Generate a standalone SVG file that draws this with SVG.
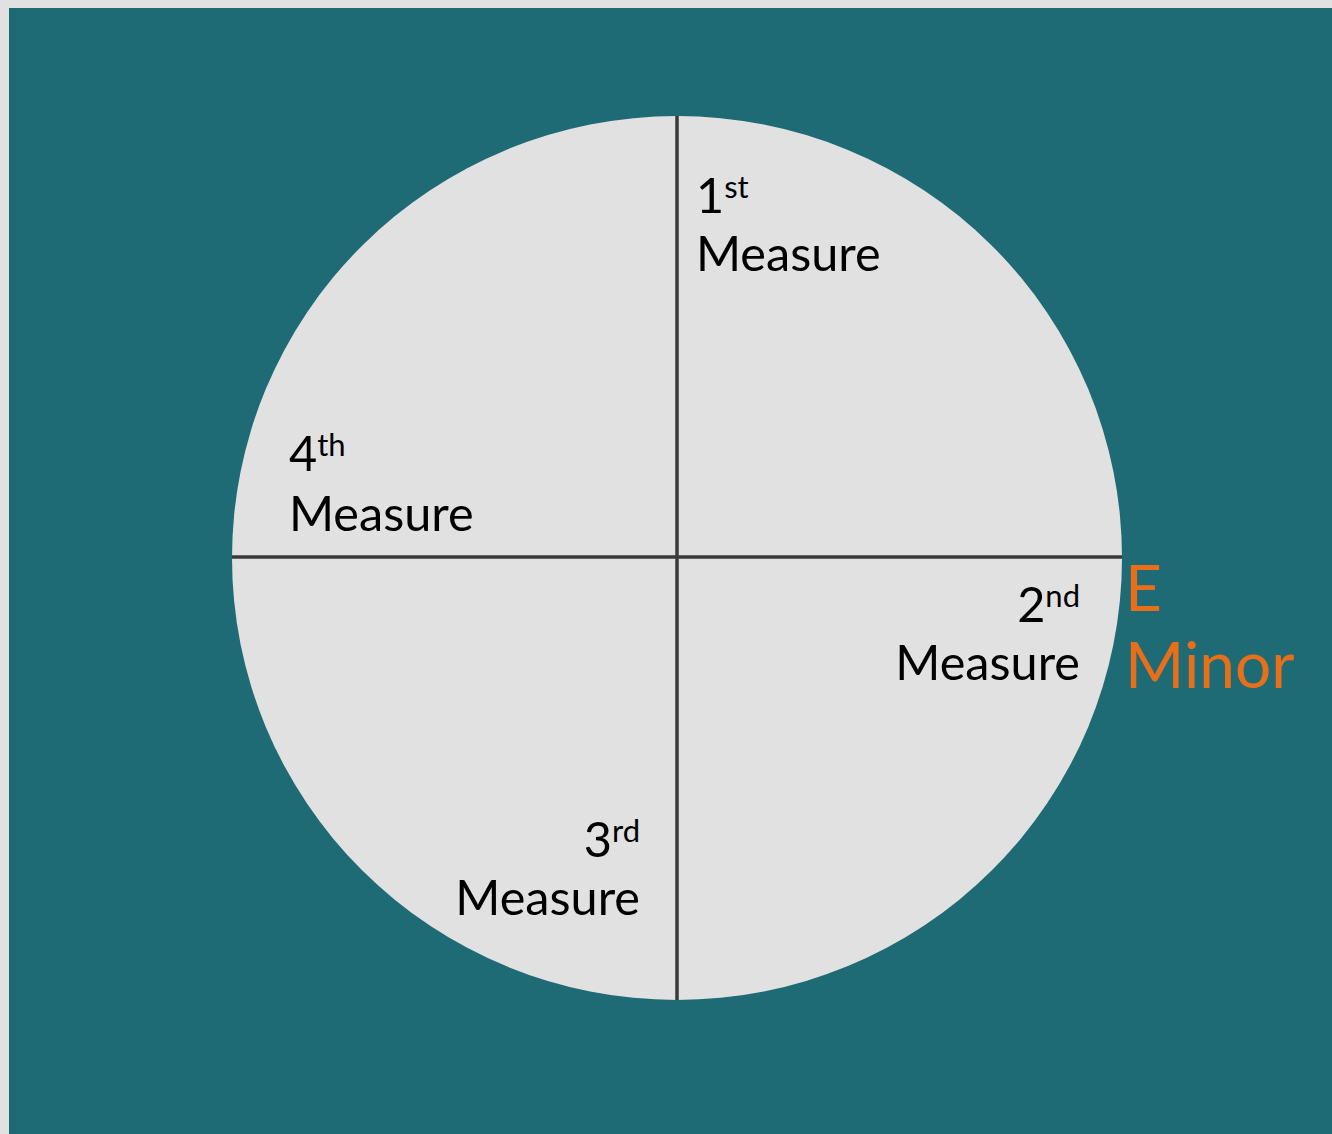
<svg xmlns="http://www.w3.org/2000/svg" width="1332" height="1134" viewBox="0 0 1332 1134">
<style>
.lbl{font-family:Lato,"Liberation Sans",sans-serif;font-size:48.6px;fill:#000}
.sup{font-size:31px}
.key{font-family:Lato,"Liberation Sans",sans-serif;font-size:64px;fill:#E86F1A}
.div{stroke:#3a3a3a;stroke-width:3.5;fill:none}
</style>
<rect x="0" y="0" width="1332" height="1134" fill="#E1E1E1"/>
<rect x="9" y="8" width="1323" height="1126" fill="#1E6B75"/>
<g id="circle"><ellipse cx="677" cy="558" rx="445" ry="442" fill="#E1E1E1"/></g>
<g id="connectors">
<line class="div" x1="677" y1="116" x2="677" y2="1000"/>
<line class="div" x1="232" y1="557" x2="1122" y2="557"/>
</g>
<g id="m1"><text class="lbl"><tspan x="696" y="213">1<tspan class="sup" dy="-15">st</tspan></tspan><tspan x="696" y="271">Measure</tspan></text></g>
<g id="m2"><text class="lbl" text-anchor="end"><tspan x="1080" y="622">2<tspan class="sup" dy="-15">nd</tspan></tspan><tspan x="1080" y="680">Measure</tspan></text></g>
<g id="m3"><text class="lbl" text-anchor="end"><tspan x="640" y="857">3<tspan class="sup" dy="-15">rd</tspan></tspan><tspan x="640" y="915">Measure</tspan></text></g>
<g id="m4"><text class="lbl"><tspan x="289" y="471">4<tspan class="sup" dy="-15">th</tspan></tspan><tspan x="289" y="531">Measure</tspan></text></g>
<g id="key"><text class="key"><tspan x="1125" y="611">E</tspan><tspan x="1125" y="688">Minor</tspan></text></g>
</svg>
